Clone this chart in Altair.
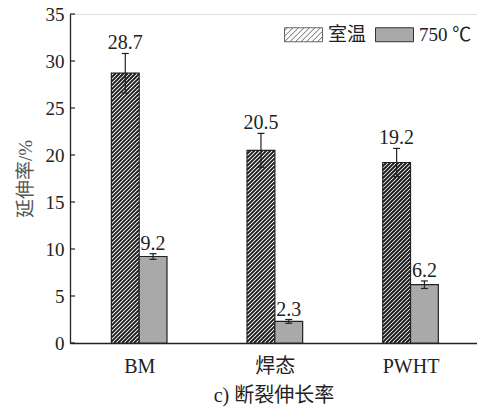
import altair as alt
import numpy as np
import pandas as pd

# ---- data -------------------------------------------------------------
categories = ["BM", "焊态", "PWHT"]
series = ["室温", "750 ℃"]
room_temp = [28.7, 20.5, 19.2]
room_temp_err = [2.1, 1.8, 1.5]
high_temp = [9.2, 2.3, 6.2]
high_temp_err = [0.3, 0.2, 0.4]
y_ticks = [0, 5, 10, 15, 20, 25, 30, 35]

# ---- layout / style ---------------------------------------------------
W, H = 407, 329
X_DOMAIN = [0.49, 3.49]
Y_DOMAIN = [0, 35]
PXX = W / (X_DOMAIN[1] - X_DOMAIN[0])   # pixels per x unit
PXY = H / (Y_DOMAIN[1] - Y_DOMAIN[0])   # pixels per y unit
BAR_W = 27.8 / PXX
CAP = 3.5 / PXX
HATCH_PERIOD = 4.0
GRAY = "#a9a9a9"
INK = "#222222"
FONT = "Liberation Serif, Noto Sans CJK SC"

rows = []
for i, cat in enumerate(categories):
    pos = i + 1
    rows.append(dict(cat=cat, series=series[0], x0=pos - BAR_W, x1=pos,
                     v=room_temp[i], e=room_temp_err[i]))
    rows.append(dict(cat=cat, series=series[1], x0=pos, x1=pos + BAR_W,
                     v=high_temp[i], e=high_temp_err[i]))
bars = pd.DataFrame(rows)
bars["base"] = 0.0
bars["xm"] = (bars.x0 + bars.x1) / 2
bars["lo"] = bars.v - bars.e
bars["hi"] = bars.v + bars.e
bars["c0"] = bars.xm - CAP
bars["c1"] = bars.xm + CAP
bars["label"] = bars.v.map(lambda v: f"{v:.1f}")

# diagonal hatch segments clipped to each room-temperature bar
segs = []
for r in bars[bars.series == series[0]].itertuples():
    left = (r.x0 - X_DOMAIN[0]) * PXX
    right = (r.x1 - X_DOMAIN[0]) * PXX
    top = r.v * PXY
    k0 = int(np.floor((left - top) / HATCH_PERIOD))
    k1 = int(np.ceil(right / HATCH_PERIOD))
    for k in range(k0, k1 + 1):
        c = k * HATCH_PERIOD
        ylo = max(0.0, left - c)
        yhi = min(top, right - c)
        if yhi - ylo > 0.3:
            segs.append(dict(xa=X_DOMAIN[0] + (ylo + c) / PXX, ya=ylo / PXY,
                             xb=X_DOMAIN[0] + (yhi + c) / PXX, yb=yhi / PXY))
hatch = pd.DataFrame(segs)

# legend swatch shapes (unit coords, scaled by sqrt(size)/2)
SW, SH = 19.0, 7.0
rect_path = f"M-1,{-SH/SW:.3f}H1V{SH/SW:.3f}H-1Z"
hatch_parts = [rect_path]
for c in np.arange(-SW - SH + 3, SW + SH, 5.5):
    xa, xb = max(-SW, c - SH), min(SW, c + SH)
    if xb - xa > 0.5:
        hatch_parts.append(f"M{xa/SW:.3f},{(c - xa)/SW:.3f}L{xb/SW:.3f},{(c - xb)/SW:.3f}")
hatch_path = "".join(hatch_parts)

x_scale = alt.Scale(domain=X_DOMAIN, nice=False, zero=False)
y_scale = alt.Scale(domain=Y_DOMAIN, nice=False)
label_expr = "[" + ",".join(f"'{c}'" for c in categories) + "][datum.value - 1]"
x_axis = alt.Axis(title="c) 断裂伸长率", values=[1, 2, 3], labelExpr=label_expr,
                  ticks=False, grid=False, domainColor=INK, domainWidth=1.3,
                  labelFont=FONT, labelFontSize=20, labelColor=INK, labelPadding=13,
                  titleFont=FONT, titleFontSize=20, titleFontWeight="normal",
                  titleColor=INK, titlePadding=9)
y_axis = alt.Axis(title="延伸率/%", values=y_ticks, ticks=False, grid=False,
                  domainColor=INK, domainWidth=1.3,
                  labelFont=FONT, labelFontSize=19, labelColor=INK, labelPadding=6,
                  titleFont=FONT, titleFontSize=19, titleFontWeight="normal",
                  titleColor="#555555", titlePadding=10)


def X(f):
    return alt.X(f"{f}:Q", scale=x_scale, axis=x_axis)


def Y(f):
    return alt.Y(f"{f}:Q", scale=y_scale, axis=y_axis)


base = alt.Chart(bars)
room = base.transform_filter(alt.datum.series == series[0])
hot = base.transform_filter(alt.datum.series == series[1])

room_fill = room.mark_rect(fill="white").encode(
    x=X("x0"), x2="x1", y=Y("v"), y2="base")
hatch_lines = alt.Chart(hatch).mark_rule(stroke="#1a1a1a", strokeWidth=1.9).encode(
    x=X("xa"), x2="xb", y=Y("ya"), y2="yb")
room_outline = room.mark_rect(filled=False, stroke=INK, strokeWidth=1.2).encode(
    x=X("x0"), x2="x1", y=Y("v"), y2="base")
hot_bars = hot.mark_rect(fill=GRAY, stroke=INK, strokeWidth=1.2).encode(
    x=X("x0"), x2="x1", y=Y("v"), y2="base")

err_lines = base.mark_rule(stroke=INK, strokeWidth=1.2).encode(
    x=X("xm"), y=Y("lo"), y2="hi")
err_top = base.mark_rule(stroke=INK, strokeWidth=1.2).encode(
    x=X("c0"), x2="c1", y=Y("hi"))
err_bot = base.mark_rule(stroke=INK, strokeWidth=1.2).encode(
    x=X("c0"), x2="c1", y=Y("lo"))

labels = base.mark_text(font=FONT, fontSize=20, color=INK, baseline="alphabetic",
                        dy=-4).encode(x=X("xm"), y=Y("hi"), text="label:N")

inner_ticks = alt.Chart(pd.DataFrame({"t": y_ticks})).mark_rule(
    stroke=INK, strokeWidth=1.2).encode(
    y=Y("t"), x=alt.value(0), x2=alt.value(5))

legend = alt.Legend(title=None, orient="none", legendX=214, legendY=1,
                    direction="horizontal", symbolSize=1444, symbolStrokeWidth=1,
                    symbolOpacity=1,
                    labelFont=FONT, labelFontSize=19, labelColor=INK,
                    labelOffset=5, columnPadding=6)
legend_layer = alt.Chart(pd.DataFrame({"series": series})).mark_point(
    filled=True, opacity=0).encode(
    x=alt.value(0), y=alt.value(0),
    shape=alt.Shape("series:N", scale=alt.Scale(domain=series, range=[hatch_path, rect_path]),
                    legend=legend),
    fill=alt.Fill("series:N", scale=alt.Scale(domain=series, range=["white", GRAY]),
                  legend=legend),
    stroke=alt.Stroke("series:N", scale=alt.Scale(domain=series, range=["#666666", "#333333"]),
                      legend=legend))

chart = alt.layer(
    room_fill, hatch_lines, room_outline, hot_bars,
    err_lines, err_top, err_bot, labels, inner_ticks, legend_layer
).properties(
    width=W, height=H,
    autosize=alt.AutoSizeParams(type="none"),
    padding={"left": 70, "top": 14, "right": 0, "bottom": 67},
).configure_view(stroke=None).configure(background="white")

chart.save("out.html", embed_options={"renderer": "svg", "actions": False})
